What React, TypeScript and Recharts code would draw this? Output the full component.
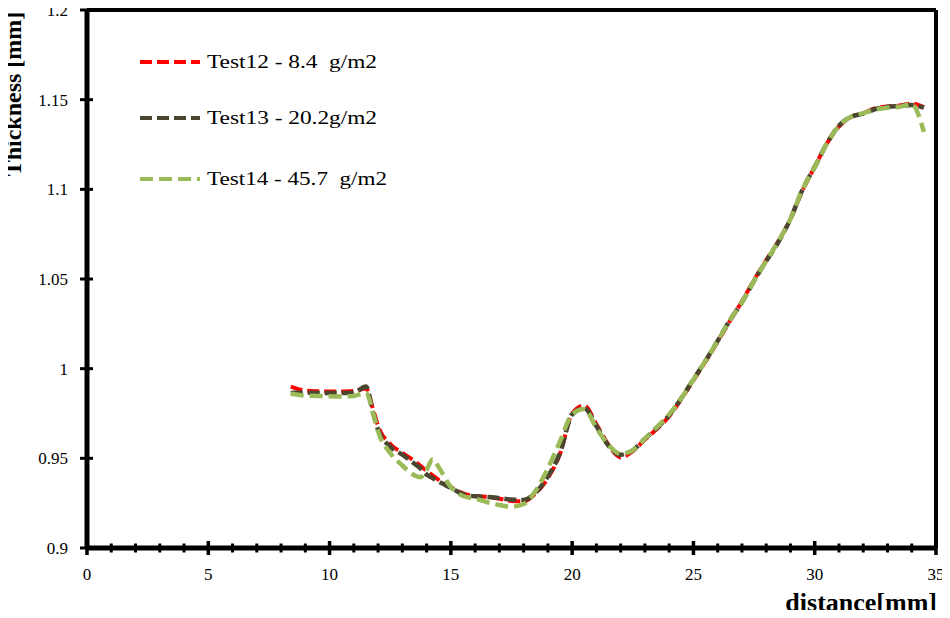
import { CartesianGrid, Line, LineChart, ReferenceLine, XAxis, YAxis } from "recharts";

// distance [mm] along the sample
const distance = [
  8.4, 9, 9.5, 10, 10.5, 11, 11.5, 11.8, 12,
  12.5, 13, 13.5, 13.75, 14, 14.25, 14.5,
  15, 15.5, 16, 16.5, 17, 17.5, 18, 18.5, 19, 19.5, 20,
  20.5, 21, 21.5, 22, 22.5, 23, 23.5, 24, 24.5, 25,
  25.5, 26, 26.5, 27, 27.5, 28, 28.5, 29, 29.5, 30,
  30.5, 31, 31.5, 32, 32.5, 33, 33.5, 34, 34.5,
];

// thickness [mm]
const test12 = [
  0.99, 0.9878, 0.9874, 0.9872, 0.9873, 0.9875, 0.989, 0.977, 0.968,
  0.958, 0.953, 0.9485, 0.9458, 0.943, 0.9405, 0.938,
  0.934, 0.9305, 0.929, 0.9285, 0.9275, 0.9262, 0.926, 0.9305, 0.939, 0.9525, 0.975,
  0.9795, 0.969, 0.9575, 0.9505, 0.954, 0.9605, 0.9665, 0.9735, 0.983, 0.9935,
  1.004, 1.015, 1.0265, 1.0375, 1.0495, 1.0605, 1.071, 1.0835, 1.0995, 1.1125,
  1.1255, 1.135, 1.1403, 1.1425, 1.1452, 1.1462, 1.1468, 1.1478, 1.1458,
];
const test13 = [
  0.9865, 0.9866, 0.9865, 0.9864, 0.9864, 0.9866, 0.99, 0.975, 0.966,
  0.9565, 0.952, 0.947, 0.9443, 0.941, 0.939, 0.937,
  0.9335, 0.93, 0.9288, 0.9285, 0.9278, 0.927, 0.9268, 0.931, 0.94, 0.953, 0.9745,
  0.978, 0.968, 0.957, 0.952, 0.9545, 0.961, 0.967, 0.974, 0.9835, 0.994,
  1.0045, 1.0155, 1.027, 1.037, 1.049, 1.06, 1.0705, 1.0835, 1.1, 1.1125,
  1.1255, 1.1355, 1.1405, 1.1422, 1.1448, 1.146, 1.1465, 1.147, 1.1455,
];
const test14 = [
  0.986, 0.985, 0.9848, 0.9846, 0.9845, 0.9848, 0.9865, 0.975, 0.965,
  0.953, 0.946, 0.9405, 0.9395, 0.9435, 0.9495, 0.945,
  0.934, 0.929, 0.9275, 0.9255, 0.924, 0.923, 0.9245, 0.932, 0.9445, 0.9595, 0.9745,
  0.9775, 0.967, 0.9575, 0.9525, 0.9545, 0.961, 0.9675, 0.9745, 0.9835, 0.994,
  1.0045, 1.0155, 1.027, 1.037, 1.049, 1.06, 1.071, 1.0835, 1.1, 1.1125,
  1.1255, 1.1355, 1.1405, 1.1425, 1.1445, 1.1455, 1.146, 1.1475, 1.132,
];

const xTicks = [
  0, 1, 2, 3, 4, 5, 6, 7, 8, 9, 10, 11, 12, 13, 14, 15, 16, 17,
  18, 19, 20, 21, 22, 23, 24, 25, 26, 27, 28, 29, 30, 31, 32, 33, 34, 35,
];
const yTicks = [0.9, 0.95, 1, 1.05, 1.1, 1.15, 1.2];

const SERIES = [
  { key: "t12", name: "Test12 - 8.4  g/m2", color: "#ff0000", dash: "12 5", width: 4, textLen: 170 },
  { key: "t13", name: "Test13 - 20.2g/m2", color: "#4a4630", dash: "12 5", width: 4.5, textLen: 170 },
  { key: "t14", name: "Test14 - 45.7  g/m2", color: "#9bbb59", dash: "13 6", width: 4.5, textLen: 180 },
];

const FONT = "Liberation Serif, Times New Roman, Times, serif";

const chartData = distance.map((d, i) => ({
  distance: d,
  t12: test12[i],
  t13: test13[i],
  t14: test14[i],
}));

const XTick = ({ x, y, payload }: any) => {
  const major = payload.value % 5 === 0;
  return (
    <g>
      <line
        x1={x}
        x2={x}
        y1={major ? y - 7 : y - 4.5}
        y2={major ? y + 7 : y + 4.5}
        stroke="#000"
        strokeWidth={major ? 3.5 : 3}
      />
      {major && (
        <text x={x} y={y + 32} textAnchor="middle" style={{ fontFamily: FONT, fontSize: 17 }} fill="#000">
          {payload.value}
        </text>
      )}
    </g>
  );
};

const YTick = ({ x, y, payload }: any) => (
  <g>
    <line x1={x - 7} x2={x + 6} y1={y} y2={y} stroke="#000" strokeWidth={3} />
    <text x={x - 19} y={y + 6} textAnchor="end" style={{ fontFamily: FONT, fontSize: 17 }} fill="#000">
      {String(payload.value)}
    </text>
  </g>
);

export default function App() {
  const legendY = [62, 118, 179];
  return (
    <div style={{ position: "relative", margin: -8, width: 950, height: 618, background: "#fff", fontFamily: FONT }}>
      <LineChart
        width={950}
        height={618}
        data={chartData}
        margin={{ top: 10, right: 14, bottom: 0, left: 0 }}
      >
        <CartesianGrid stroke="none" />
        <XAxis
          dataKey="distance"
          type="number"
          domain={[0, 35]}
          ticks={xTicks}
          interval={0}
          height={70}
          tickSize={0}
          tickMargin={0}
          axisLine={{ stroke: "#000", strokeWidth: 5 }}
          tickLine={false}
          tick={<XTick />}
        />
        <YAxis
          type="number"
          domain={[0.9, 1.2]}
          ticks={yTicks}
          interval={0}
          width={87}
          tickSize={0}
          tickMargin={0}
          axisLine={{ stroke: "#000", strokeWidth: 5 }}
          tickLine={false}
          tick={<YTick />}
        />
        <ReferenceLine y={1.2} stroke="#000" strokeWidth={4} />
        <ReferenceLine x={35} stroke="#000" strokeWidth={4} />
        {SERIES.map((s) => (
          <Line
            key={s.key}
            type="monotone"
            dataKey={s.key}
            name={s.name}
            stroke={s.color}
            strokeWidth={s.width}
            strokeDasharray={s.dash}
            dot={false}
            activeDot={false}
            isAnimationActive={false}
          />
        ))}
      </LineChart>
      <svg
        width={950}
        height={618}
        style={{ position: "absolute", left: 0, top: 0, pointerEvents: "none" }}
      >
        {SERIES.map((s, i) => (
          <g key={s.key}>
            <line
              x1={140}
              x2={200}
              y1={legendY[i]}
              y2={legendY[i]}
              stroke={s.color}
              strokeWidth={4}
              strokeDasharray={s.dash}
            />
            <text
              x={207}
              y={legendY[i] + 6}
              style={{ fontFamily: FONT, fontSize: 19, whiteSpace: "pre" }}
              textLength={s.textLen}
              lengthAdjust="spacingAndGlyphs"
              fill="#000"
            >
              {s.name}
            </text>
          </g>
        ))}
        <text
          transform="translate(21,94) rotate(-90)"
          textAnchor="middle"
          style={{ fontFamily: FONT, fontWeight: "bold", fontSize: 24 }}
          fill="#000"
        >
          Thickness [mm]
        </text>
        <text
          x={937}
          y={611}
          textAnchor="end"
          style={{ fontFamily: FONT, fontWeight: "bold", fontSize: 26 }}
          fill="#000"
        >
          distance[mm]
        </text>
      </svg>
    </div>
  );
}
